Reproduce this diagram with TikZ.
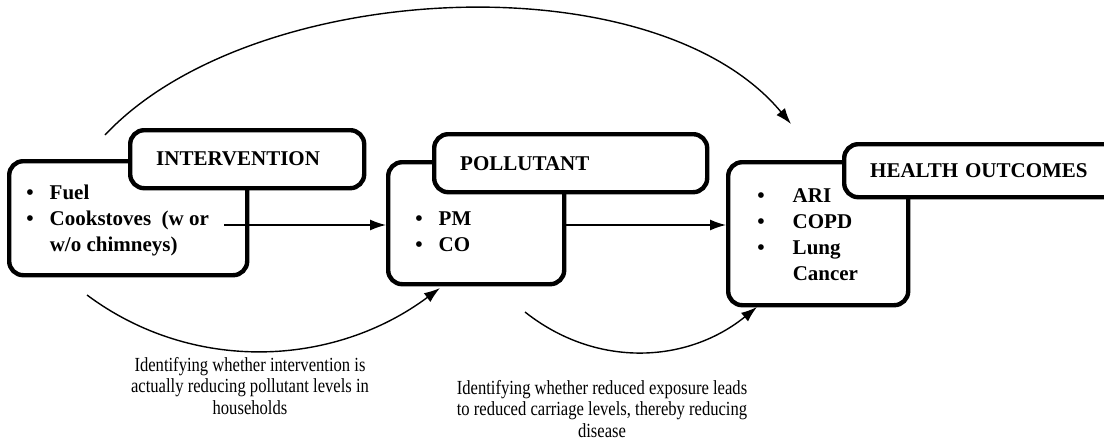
\documentclass[tikz,border=0pt]{standalone}
\usepackage{fontspec}
\setmainfont{Liberation Serif}
\newfontfamily\notefont[FakeStretch=0.83]{Liberation Serif}
\usetikzlibrary{arrows.meta}

\begin{document}
\begin{tikzpicture}
  [x=0.5pt,y=-0.5pt,
   body/.style={draw,line width=2.2pt,rounded corners=7pt,anchor=north west,inner sep=0pt},
   title/.style={draw,fill=white,line width=2.2pt,rounded corners=7pt,anchor=north west,
     inner xsep=13pt,inner ysep=0pt,align=left,font=\bfseries\fontsize{10.5}{13}\selectfont},
   items/.style={anchor=base west,inner sep=0pt,font=\bfseries\fontsize{10.5}{13}\selectfont},
   note/.style={align=center,font=\notefont\fontsize{10}{10.75}\selectfont},
   link/.style={line width=0.7pt,-{Latex[length=8pt,width=5.5pt]}}]
  \useasboundingbox (0,0) rectangle (1104,439);

  % boxes
  \node[body,minimum width=119pt,minimum height=57pt] (int) at (7,159) {};
  \node[body,minimum width=88pt,minimum height=61pt] (pol) at (386,160) {};
  \node[body,minimum width=90pt,minimum height=71.5pt] (hea) at (726,160) {};

  \node[title,minimum height=29pt,text width=91pt] (intT) at (128,128) {INTERVENTION};
  \node[title,minimum height=29pt,text width=110.5pt] (polT) at (432,132) {POLLUTANT};
  \node[title,minimum height=26.5pt,text width=120pt] (heaT) at (842,142) {HEALTH OUTCOMES};

  % lists
  \node[items] (intL) at (26,199) {\begin{tabular}[t]{@{}l@{\hspace{8pt}}l@{}}
    \textbullet & Fuel\\
    \textbullet & Cookstoves\ \ (w or\\
                & w/o chimneys)\end{tabular}};
  \node[items] (polL) at (415,225) {\begin{tabular}[t]{@{}l@{\hspace{8pt}}l@{}}
    \textbullet & PM\\
    \textbullet & CO\end{tabular}};
  \node[items] (heaL) at (757,202) {\begin{tabular}[t]{@{}l@{\hspace{14pt}}l@{}}
    \textbullet & ARI\\
    \textbullet & COPD\\
    \textbullet & Lung\\
                & Cancer\end{tabular}};

  % notes
  \node[note] (n1) at (250,386) {Identifying whether intervention is\\
    actually reducing pollutant levels in\\ households};
  \node[note] (n2) at (602,409) {Identifying whether reduced exposure leads\\
    to reduced carriage levels, thereby reducing\\ disease};

  % connectors
  \coordinate (s1) at (224,225);
  \coordinate (s2) at (563,225);
  \foreach \from/\to in {s1/pol,s2/hea}
    \draw[link] (\from) -- (\from -| \to.west);

  \coordinate (s3) at (105,135);
  \coordinate (e3) at (791,124);
  \draw[link] (s3) .. controls (251,-21) and (654,-41) .. (e3);

  \coordinate (s4) at (87,295);
  \coordinate (e4) at (440,288);
  \draw[link] (s4) .. controls (193,374) and (334,367) .. (e4);

  \coordinate (s5) at (525,312);
  \coordinate (e5) at (757,307);
  \draw[link] (s5) .. controls (597,369) and (688,363) .. (e5);

\end{tikzpicture}
\end{document}
